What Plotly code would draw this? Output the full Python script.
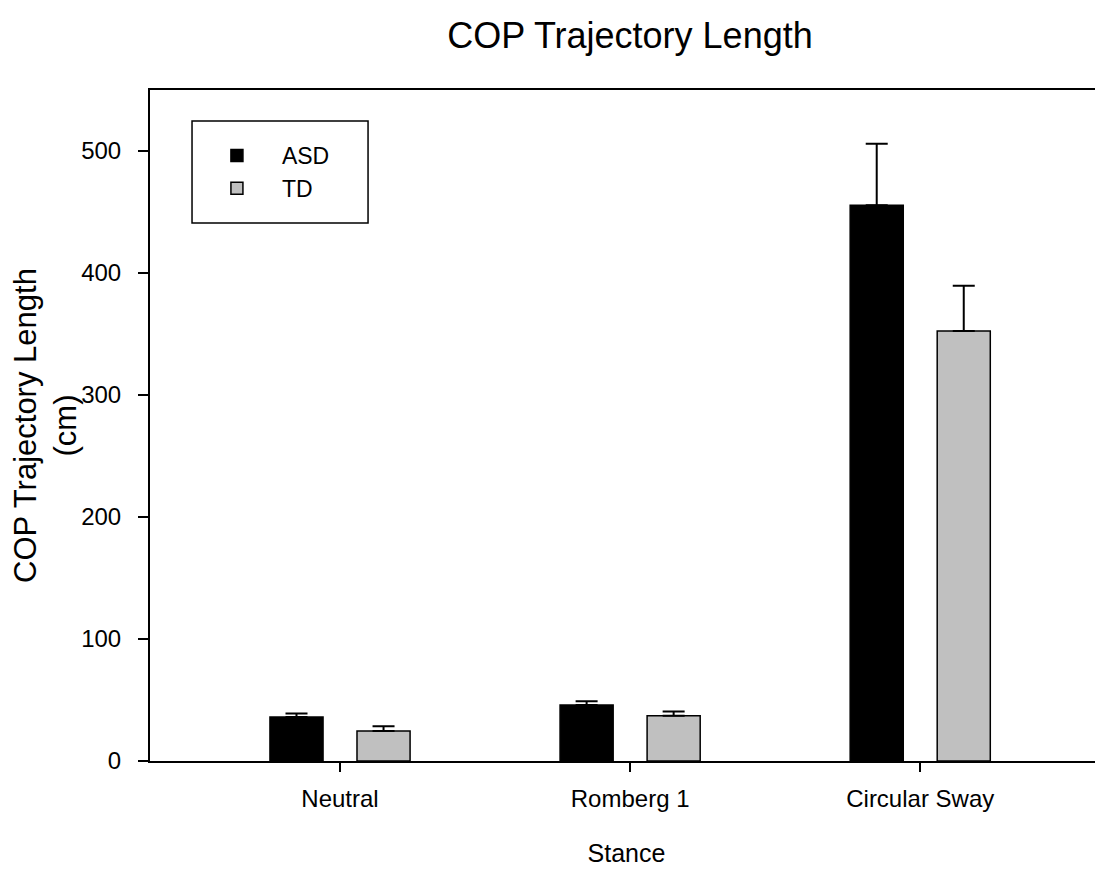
import plotly.graph_objects as go

categories = ["Neutral", "Romberg 1", "Circular Sway"]
asd_values = [36.0, 46.0, 455.5]
asd_errors = [3.0, 3.0, 50.5]
td_values = [24.5, 37.0, 352.5]
td_errors = [4.0, 3.5, 37.0]
y_ticks = [0, 100, 200, 300, 400, 500]

FONT = "Liberation Sans, Arial, sans-serif"

fig = go.Figure()
fig.add_trace(go.Bar(
    name="ASD", x=categories, y=asd_values,
    marker=dict(color="black", line=dict(color="black", width=1.5)),
    error_y=dict(type="data", array=asd_errors, arrayminus=[0] * 3, symmetric=False,
                 color="black", thickness=2, width=11),
))
fig.add_trace(go.Bar(
    name="TD", x=categories, y=td_values,
    marker=dict(color="#c0c0c0", line=dict(color="black", width=1.5)),
    error_y=dict(type="data", array=td_errors, arrayminus=[0] * 3, symmetric=False,
                 color="black", thickness=2, width=11),
))

# legend frame (decorative box around the legend entries)
fig.add_shape(type="rect", xref="paper", yref="paper",
              x0=0.0441, x1=0.2288, y0=0.8018, y1=0.9538,
              line=dict(color="black", width=1.5), fillcolor="rgba(0,0,0,0)",
              layer="above")

fig.update_layout(
    width=1095, height=867,
    margin=dict(l=142, r=0, t=82, b=114),
    paper_bgcolor="white", plot_bgcolor="white",
    barmode="group", bargap=0.4, bargroupgap=0.39,
    font=dict(family=FONT, color="black", size=23),
    title=dict(text="COP Trajectory Length", x=0.568, xref="container", xanchor="center",
               y=0.968, yref="container", yanchor="middle",
               font=dict(size=36, family=FONT, color="black")),
    showlegend=True,
    legend=dict(x=0.044, y=0.9344, xanchor="left", yanchor="top",
                bgcolor="rgba(0,0,0,0)", borderwidth=0,
                font=dict(size=23, family=FONT, color="black"),
                itemwidth=80),
    xaxis=dict(range=[-0.655, 2.63], showgrid=False, zeroline=False,
               showline=True, linecolor="black", linewidth=2, mirror=True,
               ticks="outside", ticklen=9, tickwidth=2, tickcolor="black",
               ticklabelstandoff=6,
               tickfont=dict(size=24, family=FONT, color="black"),
               title=dict(text="Stance", font=dict(size=25, family=FONT, color="black"), standoff=34)),
    yaxis=dict(range=[0, 550], tickvals=y_ticks, showgrid=False, zeroline=False,
               showline=True, linecolor="black", linewidth=2,
               ticks="outside", ticklen=10, tickwidth=2, tickcolor="black",
               ticklabelstandoff=12,
               tickfont=dict(size=24, family=FONT, color="black"),
               title=dict(text="COP Trajectory Length<br>(cm)",
                          font=dict(size=31, family=FONT, color="black"), standoff=2)),
)

fig.write_html("out.html")
